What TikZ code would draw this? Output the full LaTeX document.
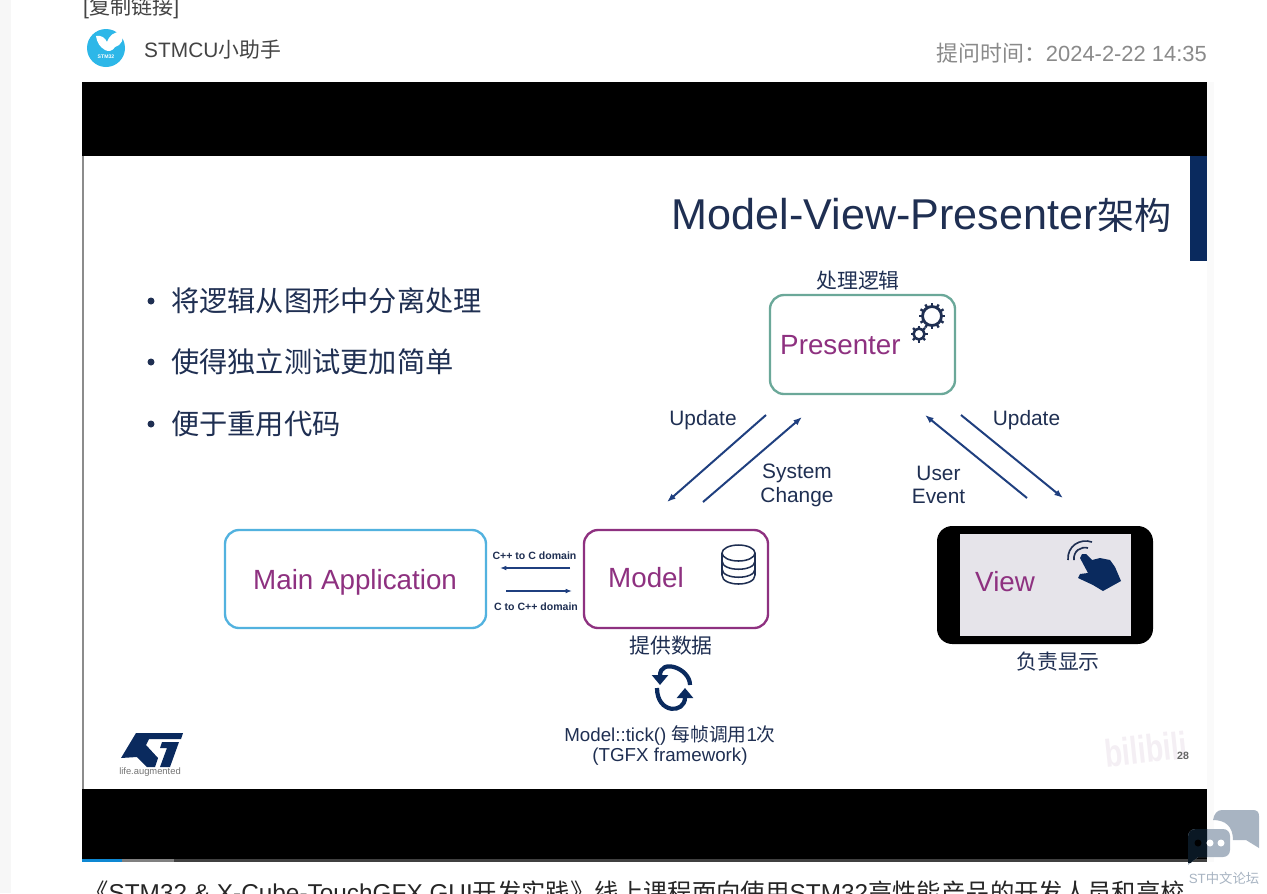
\documentclass[tikz,border=0pt]{standalone}
\usepackage{fontspec}
\setmainfont{Liberation Sans}
\newfontfamily\cjk{Noto Sans CJK SC}
\usepackage{xcolor}
\usepackage{tikz}
\usetikzlibrary{arrows.meta, positioning, calc}
\definecolor{stNavy}{HTML}{0A2A5E}
\definecolor{stInk}{HTML}{1F2F52}
\definecolor{stArrow}{HTML}{1F3F7F}
\definecolor{stPurple}{HTML}{8E3180}
\definecolor{stGreen}{HTML}{6BA899}
\definecolor{stBlue}{HTML}{52B2DF}
\definecolor{stScreen}{HTML}{E6E4EA}
\definecolor{avatarBlue}{HTML}{2DB7E8}
\definecolor{webGrey}{HTML}{8A8A8A}
\definecolor{webInk}{HTML}{444444}
\definecolor{chatGrey}{HTML}{A8B4C2}
\definecolor{chatDark}{HTML}{0A1824}
\definecolor{biliPale}{HTML}{F4EFF4}
\newcommand{\fs}[1]{\fontsize{#1}{#1}\selectfont}
\newcommand{\zh}[1]{{\cjk #1}}

\begin{document}
\begin{tikzpicture}[x=0.3mm, y=-0.3mm, >={Latex[length=2.6mm]},
  modbox/.style={draw=#1, fill=white, line width=2pt, rounded corners=12pt},
  boxname/.style={anchor=west, text=stPurple, font=\fs{23.7}, inner sep=0pt},
  slidetxt/.style={text=stInk, font=\fs{17.8}, inner sep=0pt, align=center},
  ticktxt/.style={text=stInk, font=\fs{16}, inner sep=0pt, align=center},
  bullettxt/.style={anchor=west, text=stInk, font=\fs{24.1}, inner sep=0pt},
  tinytxt/.style={text=stInk, font=\bfseries\fs{9}, inner sep=0pt},
  flow/.style={->, stArrow, line width=1.7pt},
  smallflow/.style={->, >={Latex[length=1.9mm]}, stArrow, line width=1.3pt},
  webtxt/.style={anchor=west, inner sep=0pt, font=\fs{18}}]
\useasboundingbox (0,0) rectangle (1267,893);
\clip (0,0) rectangle (1267,893);
\fill[white] (0,0) rectangle (1267,893);
\fill[black!3] (0,0) rectangle (11,893);
\fill[black!2] (1207,82) rectangle (1214,862);
% ---- forum page
\node[webtxt, text=webInk] (copylink) at (83,8) {[\zh{复制链接}]};
\node[circle, fill=avatarBlue, minimum size=11.4mm, inner sep=0pt] (avatar) at (106,48) {};
\fill[white] (96,36) .. controls (102,35) and (105,38) .. (107,42) .. controls (109,36) and (114,31) .. (122,32)
  .. controls (125,38) and (121,46) .. (115,47) .. controls (113,51) and (108,52) .. (105,50)
  .. controls (100,47) and (97,43) .. (96,36) -- cycle;
\node[inner sep=0pt, text=white, font=\bfseries\fs{4.4}] (avatarname) at (106,57) {STM32};
\node[webtxt, text=webInk, font=\fs{17.8}] (username) at (144,50) {STMCU\zh{小助手}};
\node[webtxt, anchor=east, text=webGrey, font=\fs{18.7}] (asktime) at (1207,53) {\zh{提问时间：}2024-2-22 14:35};
% ---- video frame
\fill[black] (82,82) rectangle (1207,859);
\fill[white] (82,156) rectangle (1207,789);
\draw[black!45, line width=1pt] (83,156) -- (83,789);
\fill[stNavy] (1190,156) rectangle (1207,261);
\fill[black!75] (82,859) rectangle (1207,862);
\fill[black!50] (82,859) rectangle (174,862);
\fill[cyan!70!blue] (82,859) rectangle (122,862);
% ---- title and bullets
\node[anchor=east, text=stInk, font=\fs{36.8}, inner sep=0pt] (title) at (1172,215) {Model-View-Presenter{\fs{31.7}\zh{架构}}};
\foreach \y/\name/\txt in {301/bulleta/将逻辑从图形中分离处理, 362/bulletb/使得独立测试更加简单, 424/bulletc/便于重用代码} {
  \node[circle, fill=stInk, minimum size=2.1mm, inner sep=0pt] at (151,\y) {};
  \node[bullettxt] (\name) at (171,\y) {\zh{\txt}};
}
% ---- boxes
\node[modbox=stGreen, minimum width=55.5mm, minimum height=29.7mm] (presenter) at (862.5,344.5) {};
\node[modbox=stBlue, minimum width=78.3mm, minimum height=29.4mm] (mainapp) at (355.5,579) {};
\node[modbox=stPurple, minimum width=55.2mm, minimum height=29.4mm] (model) at (676,579) {};
\node[fill=black, rounded corners=13pt, minimum width=64.8mm, minimum height=35.4mm] (phone) at (1045,585) {};
\node[fill=stScreen, minimum width=51.3mm, minimum height=30.6mm] (screen) at (1045.5,584.5) {};
\node[boxname] (presentername) at (780,345) {Presenter};
\node[boxname] (mainappname) at (253,582) {Main Application};
\node[boxname] (modelname) at (608,578) {Model};
\node[boxname] (viewname) at (975,582) {View};
% ---- captions
\node[slidetxt] (logiccap) at (858,281) {\zh{处理逻辑}};
\node[slidetxt] (datacap) at (671,646) {\zh{提供数据}};
\node[slidetxt] (showcap) at (1058,662) {\zh{负责显示}};
\node[ticktxt] (tickcap) at (670,735) {Model::tick() \zh{每帧调用}1\zh{次}};
\node[ticktxt] (tgfxcap) at (670,757) {(TGFX framework)};
% ---- arrows round the presenter
\foreach \name/\x/\y in {upla/766/415, uplb/667/502, syna/703/502, synb/802/417,
    usra/1027/498, usrb/925/415, upra/961/415, uprb/1063/498,
    cfroma/570/568, cfromb/500/568, ctoa/506/591, ctob/572/591}
  \coordinate (\name) at (\x,\y);
\draw[flow] (upla) -- (uplb);
\draw[flow] (syna) -- (synb);
\draw[flow] (usra) -- (usrb);
\draw[flow] (upra) -- (uprb);
\draw[smallflow] (cfroma) -- (cfromb);
\draw[smallflow] (ctoa) -- (ctob);
\node[slidetxt] (updatel) at (703,420) {Update};
\node[slidetxt] (systemchg) at (797,485) {System\\[2.5pt]Change};
\node[slidetxt] (userevt) at (938.5,485) {User\\[2.5pt]Event};
\node[slidetxt] (updater) at (1026.5,420) {Update};
\node[tinytxt] (cpptoc) at (534.5,556) {C++ to C domain};
\node[tinytxt] (ctocpp) at (536,607) {C to C++ domain};
% ---- gears
\foreach \x/\y/\r/\w/\st/\t in {932/316/9.5/2.4/30/3.8, 919/334/5.5/2.2/45/3} {
  \draw[stInk, line width=\w pt] (\x,\y) circle [radius=\r];
  \foreach \a in {0,\st,...,359}
    \draw[stInk, line width=2pt] ($(\x,\y)+(\a:\r)$) -- ($(\x,\y)+(\a:\r+\t)$);
}
% ---- database
\draw[stInk, line width=1.3pt] (722,553) -- (722,575) .. controls (722,587) and (755,587) .. (755,575) -- (755,553);
\draw[stInk, line width=1.3pt] (738.5,553) circle [x radius=16.5, y radius=8];
\draw[stInk, line width=1.3pt] (722,561) .. controls (722,572) and (755,572) .. (755,561);
\draw[stInk, line width=1.3pt] (722,569) .. controls (722,580) and (755,580) .. (755,569);
% ---- tick loop
\draw[stNavy, line width=3.6pt, -{Triangle[length=3mm, width=4.8mm]}] (690,685) .. controls (690,668) and (660,658) .. (660,685);
\draw[stNavy, line width=3.6pt, -{Triangle[length=3mm, width=4.8mm]}] (657,688) .. controls (657,714) and (685,714) .. (685,688);
% ---- hand
\fill[stNavy] (1082,554) -- (1086,554) -- (1092,560) -- (1100,558) -- (1110,560) -- (1115,567) -- (1121,581)
  -- (1103,591) -- (1093,585) -- (1078,578) -- (1080,574) -- (1088,573) -- (1080,558) -- cycle;
\draw[stInk, line width=1.4pt] (1068,560) .. controls (1067,546) and (1080,538) .. (1092,542);
\draw[stInk, line width=1.4pt] (1074,560) .. controls (1073,551) and (1081,546) .. (1088,548);
% ---- ST logo
\fill[stNavy] (121,758) -- (136,733) -- (183,733) -- (181,739) -- (149,739) -- (146,745) -- (158,758) -- (155,767)
  -- (147,767) -- (137,757) -- cycle;
\fill[stNavy] (162,742) -- (179,742) -- (170,767) -- (160,767) -- (167,748) -- (160,748) -- cycle;
\node[inner sep=0pt, text=black!55, font=\fs{8}] (lifeaug) at (150,772) {life.augmented};
% ---- watermark
\node[inner sep=0pt, rotate=6, xscale=0.74, text=biliPale, font=\bfseries\fs{33}] (bili) at (1146,749) {bilibili};
\node[inner sep=0pt, text=black!60, font=\bfseries\fs{9}] (slidenum) at (1183,756) {28};
% ---- chat badge
\fill[chatGrey] (1222,810) -- (1253,810) .. controls (1257,810) and (1259,812) .. (1259,816) -- (1259,848)
  -- (1246,840) -- (1233,840) .. controls (1233,826) and (1225,820) .. (1213,820) .. controls (1214,814) and (1217,810) .. (1222,810) -- cycle;
\fill[chatGrey] (1196,829) -- (1223,829) .. controls (1227,829) and (1230,832) .. (1230,836) -- (1230,850)
  .. controls (1230,854) and (1227,857) .. (1223,857) -- (1198,857) -- (1188,865) -- (1188,837) .. controls (1188,832) and (1191,829) .. (1196,829) -- cycle;
\begin{scope}
  \clip (82,789) rectangle (1207,862);
  \fill[chatDark] (1196,829) -- (1223,829) .. controls (1227,829) and (1230,832) .. (1230,836) -- (1230,850)
    .. controls (1230,854) and (1227,857) .. (1223,857) -- (1198,857) -- (1188,865) -- (1188,837) .. controls (1188,832) and (1191,829) .. (1196,829) -- cycle;
\end{scope}
\fill[black] (1198,843) circle [radius=3.5];
\foreach \x in {1210,1221}
  \fill[white] (\x,843) circle [radius=3.5];
\node[inner sep=0pt, text=chatGrey, font=\fs{11.4}] (forumname) at (1224,878) {ST\zh{中文论坛}};
% ---- text under the video
\node[webtxt, text=black!85, font=\fs{20.8}] (intro) at (84,892) {\zh{《}STM32 \& X-Cube-TouchGFX GUI\zh{开发实践》线上课程面向使用}STM32\zh{高性能产品的开发人员和高校}};
\end{tikzpicture}
\end{document}
